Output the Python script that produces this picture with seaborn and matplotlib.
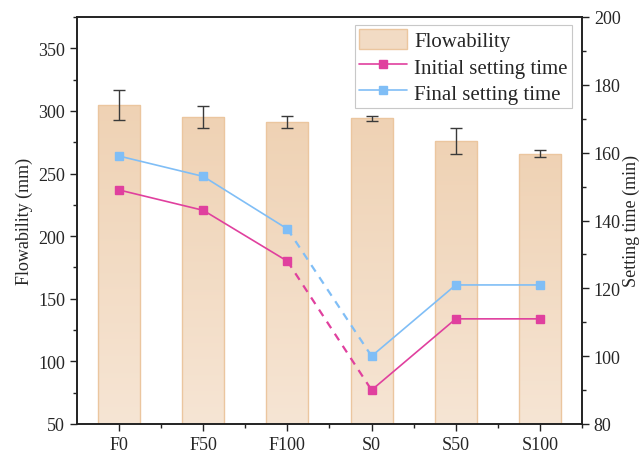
import numpy as np
import pandas as pd
import matplotlib
matplotlib.use("Agg")
import matplotlib.pyplot as plt
import seaborn as sns
from matplotlib.patches import Patch
from matplotlib.lines import Line2D
from matplotlib.ticker import MultipleLocator
from matplotlib.colors import LinearSegmentedColormap

categories = ["F0", "F50", "F100", "S0", "S50", "S100"]
flowability = [305, 295, 291, 294, 276, 266]
flow_err = [12, 9, 5, 2, 10, 3]
initial_set = [149, 143, 128, 90, 111, 111]
final_set = [159, 153, 137.5, 100, 121, 121]

sns.set_theme(style="ticks")
plt.rcParams["font.family"] = ["Liberation Serif", "DejaVu Serif"]
plt.rcParams["mathtext.fontset"] = "stix"

pink = "#E0409E"
blue = "#80BEF6"
bar_top = "#EFD2B4"
bar_bot = "#F6E5D4"
bar_edge = "#EBC69F"

fig = plt.figure(figsize=(6.43, 4.60), dpi=100)
ax = fig.add_axes([77/643, 1-425/460, (582-77)/643, (425-18)/460])

df = pd.DataFrame({"cat": categories, "flow": flowability})
sns.barplot(data=df, x="cat", y="flow", ax=ax, width=0.5, color=bar_top,
            edgecolor=bar_edge, linewidth=1.0, errorbar=None, saturation=1)
ax.set_ylim(50, 375)
ax.set_xlim(-0.5, 5.5)

# gradient fill inside bars
cmap = LinearSegmentedColormap.from_list("g", [bar_bot, bar_top])
grad = np.linspace(0, 1, 256).reshape(-1, 1)
for p in ax.patches:
    x0 = p.get_x(); w = p.get_width(); h = p.get_height(); y0 = p.get_y()
    im = ax.imshow(grad, cmap=cmap, origin="lower", aspect="auto",
                   extent=[x0, x0 + w, 50, y0 + h], zorder=p.get_zorder() + 0.1)
    im.set_clip_path(p)
    p.set_facecolor("none")
    p.set_zorder(p.get_zorder() + 0.2)
ax.set_xlim(-0.5, 5.5)
ax.set_ylim(50, 375)

xs = np.arange(len(categories))
ax.errorbar(xs, flowability, yerr=flow_err, fmt="none", ecolor="#3a3a3a",
            elinewidth=1.0, capsize=4, capthick=1.0, zorder=5)

ax.set_xlabel("")
ax.set_ylabel("Flowability (mm)", fontsize=13)
ax.yaxis.set_major_locator(MultipleLocator(50))
ax.yaxis.set_minor_locator(MultipleLocator(25))
ax.set_xticks(xs)
ax.set_xticklabels(categories)
ax.set_xticks(xs + 0.5, minor=True)
ax.tick_params(axis="both", which="major", direction="out", length=5, width=1,
               labelsize=13, color="#222222")
ax.tick_params(axis="both", which="minor", direction="out", length=3, width=1,
               color="#222222")
ax.tick_params(axis="y", which="both", right=False)
ax.tick_params(axis="x", which="both", top=False)
for s in ax.spines.values():
    s.set_color("#222222"); s.set_linewidth(1.2); s.set_visible(True)

ax2 = ax.twinx()
ax2.set_ylim(80, 200)
seg1 = slice(0, 3); seg2 = slice(3, 6); segd = slice(2, 4)
for vals, col in [(initial_set, pink), (final_set, blue)]:
    v = np.array(vals)
    ax2.plot(xs[seg1], v[seg1], color=col, lw=1.2, marker="s", ms=6, zorder=3)
    ax2.plot(xs[seg2], v[seg2], color=col, lw=1.2, marker="s", ms=6, zorder=3)
    ax2.plot(xs[segd], v[segd], color=col, lw=1.6, ls=(0, (3.5, 3)), zorder=2)
ax2.yaxis.set_major_locator(MultipleLocator(20))
ax2.yaxis.set_minor_locator(MultipleLocator(10))
ax2.tick_params(axis="y", which="major", direction="out", length=5, width=1,
                labelsize=13, color="#222222")
ax2.tick_params(axis="y", which="minor", direction="out", length=3, width=1,
                color="#222222")
ax2.set_ylabel("Setting time (min)", fontsize=13, labelpad=1)
for s in ax2.spines.values():
    s.set_color("#222222"); s.set_linewidth(1.2)

handles = [
    Patch(facecolor="#F2DBC4", edgecolor=bar_edge, label="Flowability"),
    Line2D([], [], color=pink, lw=1.2, marker="s", ms=6, label="Initial setting time"),
    Line2D([], [], color=blue, lw=1.2, marker="s", ms=6, label="Final setting time"),
]
leg = ax2.legend(handles=handles, loc="upper right", bbox_to_anchor=(0.980, 0.980),
                 borderaxespad=0, fontsize=15, frameon=True, fancybox=False,
                 edgecolor="#c8c8c8", framealpha=1, handlelength=2.3,
                 handleheight=1.1, handletextpad=0.35, labelspacing=0.2,
                 borderpad=0.2)
leg.get_frame().set_linewidth(0.8)

fig.savefig("out.png", dpi=100)
